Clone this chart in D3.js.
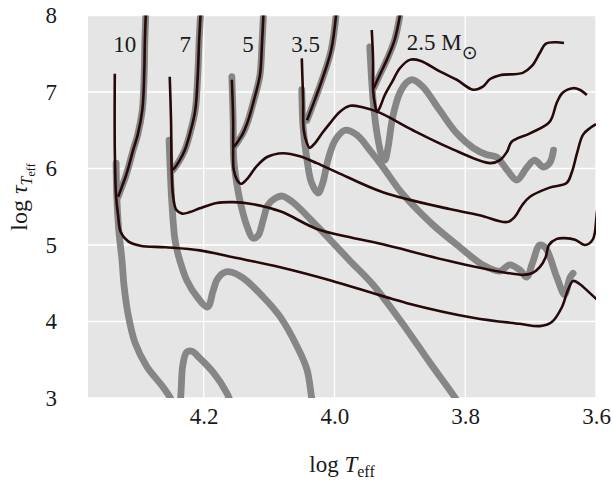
<!DOCTYPE html>
<html>
<head>
<meta charset="utf-8">
<script src="https://cdn.jsdelivr.net/npm/d3@7"></script>
<style>
  body { margin: 0; background: #fff; }
  text { font-family: "Liberation Serif", "DejaVu Serif", serif; fill: #1a1a1a; }
</style>
</head>
<body>
<svg></svg>
<script>
let width = 613, height = 490;

// [log Teff, log tau]
// upper (steep) branch shared by both models
const up10 = [[4.288,8.14],[4.290,7.68],[4.291,7.24],[4.294,6.76],[4.301,6.44],[4.308,6.24],[4.314,6.05],[4.320,5.88],[4.327,5.72],[4.331,5.63]];
const up7  = [[4.204,8.14],[4.207,7.68],[4.209,7.24],[4.213,6.76],[4.221,6.46],[4.229,6.24],[4.238,6.09],[4.247,5.98]];
const up5  = [[4.108,8.14],[4.111,7.61],[4.114,7.22],[4.123,6.90],[4.132,6.63],[4.140,6.46],[4.148,6.35],[4.154,6.28]];
const up35 = [[3.996,8.14],[4.005,7.55],[4.019,7.16],[4.030,6.90],[4.042,6.63]];
const up25 = [[3.897,8.14],[3.908,7.68],[3.920,7.42],[3.931,7.22],[3.940,7.05]];

// dark tracks
const blk10 = [[4.336,7.24],[4.336,6.24],[4.334,5.63],[4.331,5.39],[4.327,5.17],[4.316,5.05],[4.297,4.99],[4.259,4.97],[4.206,4.93],[4.155,4.84],[4.083,4.71],[4.007,4.54],[3.889,4.24],[3.788,4.05],[3.717,3.97],[3.686,3.94],[3.668,3.99],[3.652,4.19],[3.643,4.41],[3.635,4.53],[3.625,4.49],[3.613,4.40],[3.599,4.29]];
const blk7 = [[4.252,7.20],[4.250,6.63],[4.249,5.98],[4.247,5.65],[4.242,5.46],[4.233,5.41],[4.221,5.43],[4.206,5.48],[4.180,5.55],[4.155,5.56],[4.129,5.54],[4.083,5.44],[4.027,5.21],[3.976,5.10],[3.926,5.01],[3.824,4.79],[3.712,4.61],[3.698,4.63],[3.686,4.71],[3.677,4.84],[3.672,5.00],[3.660,5.08],[3.648,5.09],[3.632,5.07],[3.617,5.00],[3.605,5.07],[3.599,5.39],[3.594,5.92]];
const blk5 = [[4.157,7.16],[4.155,6.63],[4.155,6.29],[4.154,5.98],[4.149,5.85],[4.143,5.80],[4.134,5.86],[4.119,6.03],[4.103,6.15],[4.079,6.20],[4.053,6.16],[4.027,6.07],[3.996,5.95],[3.926,5.69],[3.824,5.47],[3.778,5.39],[3.736,5.30],[3.724,5.37],[3.713,5.52],[3.701,5.63],[3.671,5.75],[3.645,5.81],[3.637,5.95],[3.629,6.20],[3.620,6.44],[3.609,6.53],[3.600,6.58]];
const blk35 = [[4.050,7.44],[4.048,6.90],[4.047,6.50],[4.042,6.33],[4.038,6.27],[4.030,6.33],[4.019,6.46],[4.007,6.59],[3.992,6.74],[3.976,6.82],[3.957,6.80],[3.931,6.73],[3.880,6.50],[3.824,6.27],[3.762,6.07],[3.747,6.11],[3.736,6.22],[3.729,6.35],[3.701,6.46],[3.671,6.61],[3.660,6.86],[3.651,6.99],[3.635,7.05],[3.625,7.03],[3.614,6.96]];
const blk25 = [[3.943,7.81],[3.941,7.42],[3.941,7.03],[3.938,6.83],[3.935,6.74],[3.931,6.79],[3.923,6.96],[3.912,7.13],[3.900,7.31],[3.885,7.42],[3.869,7.41],[3.839,7.27],[3.813,7.16],[3.788,7.03],[3.773,7.07],[3.762,7.17],[3.747,7.22],[3.712,7.25],[3.698,7.34],[3.686,7.51],[3.677,7.63],[3.661,7.65],[3.649,7.64]];

// grey tracks
const gry10 = [[4.334,6.07],[4.333,5.63],[4.330,5.20],[4.325,4.80],[4.322,4.48],[4.316,4.11],[4.305,3.72],[4.287,3.41],[4.262,3.14],[4.249,2.97],[4.242,2.82],[4.238,2.82],[4.235,3.04],[4.232,3.43],[4.226,3.60],[4.218,3.61],[4.206,3.52],[4.186,3.34],[4.165,3.07],[4.157,2.91]];
const gry7 = [[4.253,6.37],[4.249,5.59],[4.244,5.07],[4.239,4.87],[4.233,4.70],[4.226,4.54],[4.210,4.32],[4.194,4.19],[4.186,4.39],[4.180,4.54],[4.171,4.63],[4.160,4.65],[4.140,4.57],[4.109,4.32],[4.083,4.06],[4.057,3.67],[4.042,3.37],[4.035,3.01],[4.031,2.84]];
const gry5 = [[4.157,7.20],[4.155,6.63],[4.154,6.11],[4.149,5.78],[4.143,5.52],[4.134,5.25],[4.125,5.09],[4.117,5.12],[4.109,5.33],[4.102,5.52],[4.091,5.61],[4.080,5.64],[4.064,5.56],[4.027,5.25],[3.976,4.79],[3.941,4.48],[3.889,3.89],[3.854,3.46],[3.813,2.97],[3.805,2.84]];
const gry35 = [[4.050,7.03],[4.048,6.54],[4.042,6.11],[4.035,5.81],[4.025,5.68],[4.018,5.81],[4.010,6.11],[3.999,6.37],[3.984,6.50],[3.966,6.44],[3.946,6.24],[3.926,6.02],[3.900,5.71],[3.880,5.52],[3.849,5.26],[3.808,4.97],[3.773,4.74],[3.747,4.66],[3.732,4.74],[3.716,4.67],[3.706,4.58],[3.697,4.77],[3.686,5.00],[3.677,4.96],[3.660,4.58],[3.648,4.35],[3.640,4.57],[3.635,4.63]];
const gry25 = [[3.946,7.59],[3.941,6.90],[3.935,6.46],[3.927,6.15],[3.923,6.11],[3.918,6.28],[3.911,6.67],[3.900,6.99],[3.889,7.13],[3.880,7.16],[3.865,7.07],[3.839,6.76],[3.813,6.46],[3.788,6.27],[3.767,6.18],[3.752,6.15],[3.736,5.98],[3.721,5.85],[3.706,6.01],[3.694,6.11],[3.681,6.02],[3.671,6.07],[3.665,6.24]];

const masses = ["10", "7", "5", "3.5", "2.5"];
const xTicks = [4.2, 4.0, 3.8, 3.6];
const yTicks = [3, 4, 5, 6, 7, 8];

const tracks = masses.map((m, i) => ({
    mass: m,
    up: [up10, up7, up5, up35, up25][i],
    black: [blk10, blk7, blk5, blk35, blk25][i],
    gray: [gry10, gry7, gry5, gry35, gry25][i]
}));

let svg = d3.select("svg")
    .attr("width", width)
    .attr("height", height);

let x = d3.scaleLinear().domain([4.377, 3.6]).range([88, 596]);
let y = d3.scaleLinear().domain([3, 8]).range([398, 15.5]);

// panel
svg.append("rect")
    .attr("x", x.range()[0]).attr("y", y.range()[1])
    .attr("width", x.range()[1] - x.range()[0])
    .attr("height", y.range()[0] - y.range()[1])
    .attr("fill", "#e5e5e5");

svg.append("defs").append("clipPath").attr("id", "panel")
    .append("rect")
    .attr("x", x.range()[0]).attr("y", y.range()[1])
    .attr("width", x.range()[1] - x.range()[0])
    .attr("height", y.range()[0] - y.range()[1]);

// grid
let grid = svg.append("g").attr("stroke", "#fff").attr("stroke-width", 1.3);
grid.selectAll(".gx").data(xTicks).enter().append("line")
    .attr("x1", d => x(d)).attr("x2", d => x(d))
    .attr("y1", y.range()[0]).attr("y2", y.range()[1]);
grid.selectAll(".gy").data(yTicks).enter().append("line")
    .attr("y1", d => y(d)).attr("y2", d => y(d))
    .attr("x1", x.range()[0]).attr("x2", x.range()[1]);

let line = d3.line()
    .x(d => x(d[0]))
    .y(d => y(d[1]))
    .curve(d3.curveCatmullRom.alpha(0.5));

let plot = svg.append("g").attr("clip-path", "url(#panel)");

// grey model underneath
tracks.forEach(t => {
    [t.up, t.gray].forEach(p => {
        plot.append("path")
            .attr("d", line(p))
            .attr("fill", "none")
            .attr("stroke", "#868686")
            .attr("stroke-width", 6.8)
            .attr("stroke-linecap", "round")
            .attr("stroke-linejoin", "round");
    });
});

// dark model on top
tracks.forEach(t => {
    [t.up, t.black].forEach(p => {
        plot.append("path")
            .attr("d", line(p))
            .attr("fill", "none")
            .attr("stroke", "#270909")
            .attr("stroke-width", 2.6)
            .attr("stroke-linejoin", "round");
    });
});

// mass labels
tracks.forEach((t, i) => {
    let last = i == tracks.length - 1;
    let lab = svg.append("text")
        .attr("x", x(t.up[0][0]) + (last ? 5 : (t.mass == "3.5" ? -17 : -10)))
        .attr("y", last ? 50 : 52)
        .attr("text-anchor", last ? "start" : "end")
        .style("font-size", "23px")
        .text(t.mass);
    if (last) {
        lab.append("tspan").text(" M");
        lab.append("tspan").attr("dy", 9)
            .style("font-family", "DejaVu Sans")
            .style("font-size", "19px")
            .text("\u2299");
    }
});

// axes
let xAxis = svg.append("g")
    .attr("transform", "translate(0," + y.range()[0] + ")")
    .call(d3.axisBottom(x).tickValues(xTicks).tickFormat(d3.format(".1f")).tickSize(0).tickPadding(10));
let yAxis = svg.append("g")
    .attr("transform", "translate(" + x.range()[0] + ",0)")
    .call(d3.axisLeft(y).tickValues(yTicks).tickFormat(d3.format("d")).tickSize(0).tickPadding(31));
[xAxis, yAxis].forEach(a => {
    a.select(".domain").remove();
    a.selectAll("text")
        .style("font-family", "Liberation Serif")
        .style("font-size", "23px")
        .attr("fill", "#1a1a1a");
});

// axis titles
let xt = svg.append("text")
    .attr("x", (x.range()[0] + x.range()[1]) / 2)
    .attr("y", 472)
    .attr("text-anchor", "middle")
    .style("font-size", "23px");
xt.append("tspan").text("log ");
xt.append("tspan").style("font-style", "italic").text("T");
xt.append("tspan").attr("dy", 5).style("font-size", "16px").text("eff");

let yt = svg.append("text")
    .attr("transform", "translate(27,197) rotate(-90)")
    .attr("text-anchor", "middle")
    .style("font-size", "24px");
yt.append("tspan").text("log ");
yt.append("tspan").style("font-style", "italic").text("\u03c4");
yt.append("tspan").attr("dy", 5).style("font-style", "italic").style("font-size", "16px").text("T");
yt.append("tspan").attr("dy", 3).style("font-size", "12px").text("eff");
</script>
</body>
</html>
